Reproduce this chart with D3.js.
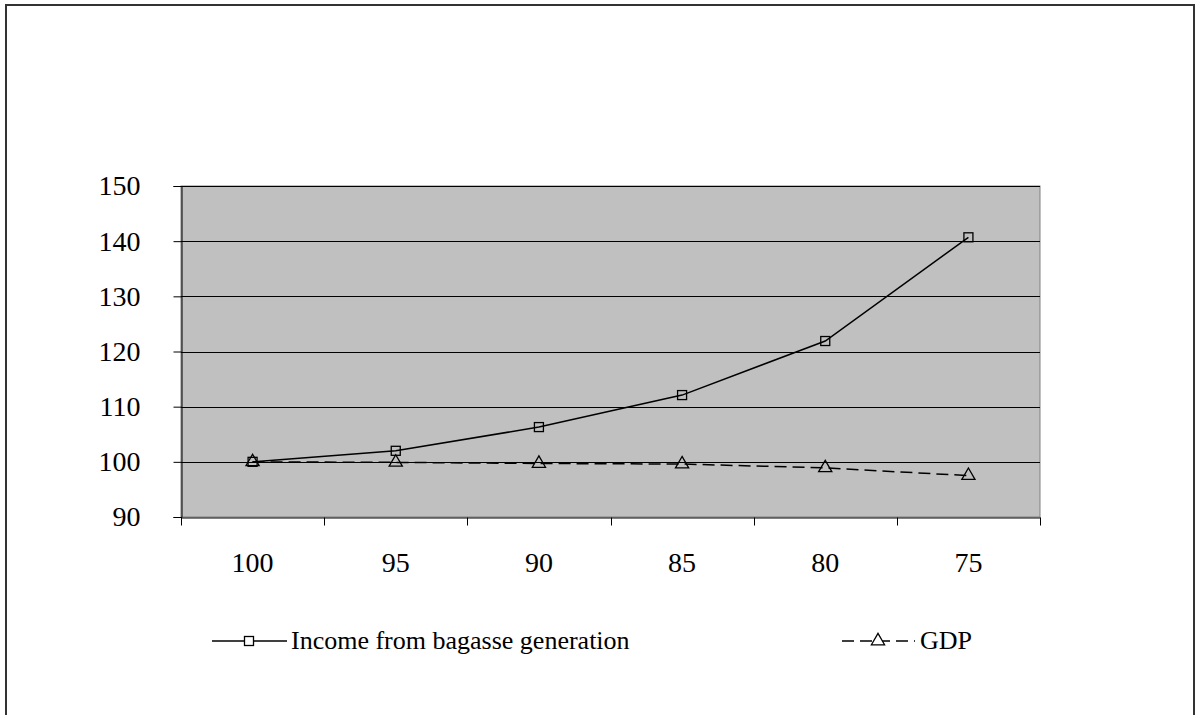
<!DOCTYPE html>
<html><head><meta charset="utf-8">
<script src="https://cdn.jsdelivr.net/npm/d3@7"></script>
<style>body{margin:0;background:#fff}svg{display:block}text{font-family:"Liberation Serif","Times New Roman",serif;fill:#000}</style>
</head><body><svg id="c" width="1195" height="715"></svg>
<script>
const categories = ["100","95","90","85","80","75"];
const incomeValues = [100, 102, 106.3, 112.1, 121.9, 140.7];
const gdpValues = [100, 99.9, 99.7, 99.6, 98.9, 97.5];
const yTicks = [90,100,110,120,130,140,150];
const seriesNames = ["Income from bagasse generation","GDP"];

const svg = d3.select("#c");
svg.append("rect").attr("x",6).attr("y",5).attr("width",1188).attr("height",720)
  .attr("fill","#fff").attr("stroke","#333").attr("stroke-width",2);

const L=181,R=1040,T=186,B=517;
const x = d3.scaleBand().domain(categories).range([L,R]);
const y = d3.scaleLinear().domain([90,150]).range([B,T]);

svg.append("rect").attr("x",L).attr("y",T).attr("width",R-L).attr("height",B-T)
  .attr("fill","#c0c0c0").attr("stroke","#808080").attr("stroke-width",1);

svg.append("g").selectAll("line").data(yTicks.slice(1)).join("line")
  .attr("x1",L).attr("x2",R).attr("y1",d=>Math.round(y(d))+0.5).attr("y2",d=>Math.round(y(d))+0.5)
  .attr("stroke","#000").attr("stroke-width",1);

const yAxis = svg.append("g").attr("transform",`translate(${L+0.5},0)`)
  .call(d3.axisLeft(y).tickValues(yTicks).tickSize(8).tickPadding(33).tickFormat(d3.format("d")));
yAxis.selectAll("text").style("font-size","28px");
yAxis.select(".domain").attr("stroke","#000");

const xAxis = svg.append("g").attr("transform",`translate(0,${B+0.5})`)
  .call(d3.axisBottom(x).tickSize(0).tickPadding(35));
xAxis.selectAll("text").style("font-size","28px");
xAxis.select(".domain").attr("stroke","#000");
const bounds = categories.map(c=>x(c)).concat([R]);
xAxis.selectAll("line.b").data(bounds).join("line").attr("class","b")
  .attr("x1",d=>Math.round(d)+0.5).attr("x2",d=>Math.round(d)+0.5).attr("y1",0).attr("y2",8).attr("stroke","#000");

const cx = c=>x(c)+x.bandwidth()/2;
const line = d3.line().x((d,i)=>cx(categories[i])).y(d=>y(d));

svg.append("path").datum(gdpValues).attr("d",line).attr("fill","none")
  .attr("stroke","#000").attr("stroke-width",1.5).attr("stroke-dasharray","12,6");
svg.append("path").datum(incomeValues).attr("d",line).attr("fill","none")
  .attr("stroke","#000").attr("stroke-width",1.5);

const tri = d3.symbol().type(d3.symbolTriangle).size(75);
svg.append("g").selectAll("path").data(gdpValues).join("path")
  .attr("d",tri).attr("transform",(d,i)=>`translate(${cx(categories[i])},${y(d)})`)
  .attr("fill","none").attr("stroke","#000").attr("stroke-width",1.3);
svg.append("g").selectAll("rect").data(incomeValues).join("rect")
  .attr("x",(d,i)=>cx(categories[i])-4.5).attr("y",d=>y(d)-4.5).attr("width",9).attr("height",9)
  .attr("fill","none").attr("stroke","#000").attr("stroke-width",1.3);

// legend
const ly = 641;
const leg = svg.append("g");
leg.append("line").attr("x1",212).attr("x2",287).attr("y1",ly).attr("y2",ly).attr("stroke","#000").attr("stroke-width",1.5);
leg.append("rect").attr("x",249-4.5).attr("y",ly-4.5).attr("width",9).attr("height",9).attr("fill","#fff").attr("stroke","#000").attr("stroke-width",1.3);
leg.append("text").attr("x",291).attr("y",ly+8).style("font-size","26px").text(seriesNames[0]);
leg.append("line").attr("x1",842).attr("x2",915).attr("y1",ly).attr("y2",ly).attr("stroke","#000").attr("stroke-width",1.5).attr("stroke-dasharray","12,6");
leg.append("path").attr("d",tri).attr("transform",`translate(878,${ly})`).attr("fill","#fff").attr("stroke","#000").attr("stroke-width",1.3);
leg.append("text").attr("x",920).attr("y",ly+8).style("font-size","26px").text(seriesNames[1]);
</script></body></html>
